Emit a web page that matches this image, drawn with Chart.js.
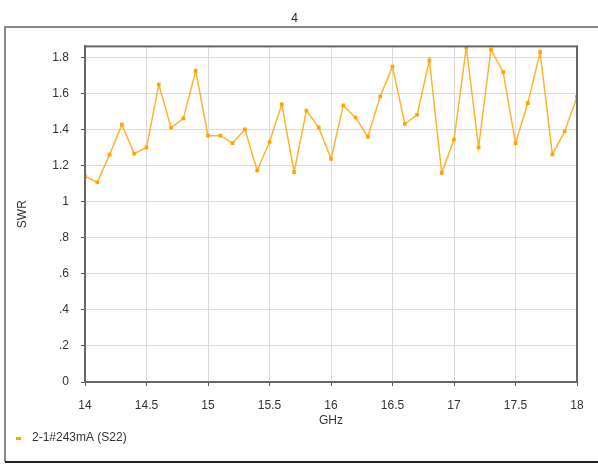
<!DOCTYPE html>
<html>
<head>
<meta charset="utf-8">
<script src="https://cdn.jsdelivr.net/npm/chart.js@4/dist/chart.umd.min.js"></script>
<style>
  html, body { margin: 0; padding: 0; background: #fff; }
  #wrap { width: 598px; height: 464px; }
</style>
</head>
<body>
<div id="wrap"><canvas id="myChart" width="598" height="464"></canvas></div>
<script>
// data
const chartTitle = '4';
const seriesName = '2-1#243mA (S22)';
const freqs = [14.0, 14.1, 14.2, 14.3, 14.4, 14.5, 14.6, 14.7, 14.8, 14.9,
               15.0, 15.1, 15.2, 15.3, 15.4, 15.5, 15.6, 15.7, 15.8, 15.9,
               16.0, 16.1, 16.2, 16.3, 16.4, 16.5, 16.6, 16.7, 16.8, 16.9,
               17.0, 17.1, 17.2, 17.3, 17.4, 17.5, 17.6, 17.7, 17.8, 17.9, 18.0];
const swr = [1.14, 1.107, 1.26, 1.426, 1.265, 1.30, 1.648, 1.409, 1.461, 1.724,
             1.365, 1.365, 1.324, 1.40, 1.172, 1.33, 1.539, 1.163, 1.504, 1.411,
             1.237, 1.533, 1.465, 1.359, 1.583, 1.748, 1.43, 1.481, 1.783, 1.159,
             1.344, 1.854, 1.30, 1.843, 1.717, 1.324, 1.546, 1.828, 1.261, 1.389, 1.58];
const xTicks = [14, 14.5, 15, 15.5, 16, 16.5, 17, 17.5, 18];
const yTicks = [0, 0.2, 0.4, 0.6, 0.8, 1, 1.2, 1.4, 1.6, 1.8];

const font = { family: 'Liberation Sans, Arial, sans-serif', size: 12, weight: 'normal' };

// small orange dash for the legend, with blank room after it
const legendMark = document.createElement('canvas');
legendMark.width = 10;
legendMark.height = 3;
legendMark.getContext('2d').fillStyle = '#ffa500';
legendMark.getContext('2d').fillRect(0, 0, 5, 3);

// outer frame and plot border
const framePlugin = {
  id: 'frame',
  beforeDraw (chart) {
    const c = chart.ctx;
    c.save();
    c.fillStyle = '#fff';
    c.fillRect(0, 0, chart.width, chart.height);
    c.strokeStyle = '#8a8a8a';
    c.lineWidth = 2;
    c.beginPath();
    c.moveTo(chart.width + 5, 27);
    c.lineTo(5, 27);
    c.lineTo(5, 462);
    c.stroke();
    c.strokeStyle = '#222';
    c.beginPath();
    c.moveTo(5, 462);
    c.lineTo(chart.width + 5, 462);
    c.stroke();
    c.restore();
  },
  afterDatasetsDraw (chart) {
    const a = chart.chartArea;
    const c = chart.ctx;
    c.save();
    c.strokeStyle = '#666';
    c.lineWidth = 2;
    c.strokeRect(a.left, a.top, a.right - a.left, a.bottom - a.top);
    c.restore();
  }
};

const ctx = document.getElementById('myChart');

const myChart = new Chart(ctx, {
  type: 'line',
  data: {
    datasets: [{
      label: seriesName,
      data: freqs.map((f, i) => ({ x: f, y: swr[i] })),
      borderColor: '#ffb32e',
      backgroundColor: '#ffa500',
      borderWidth: 1.5,
      pointStyle: 'rect',
      pointRadius: 2.6,
      pointBackgroundColor: '#ffa500',
      pointBorderColor: '#ffa500',
      pointBorderWidth: 0,
      tension: 0
    }]
  },
  options: {
    responsive: false,
    animation: false,
    layout: { padding: { left: 12, right: 21, top: 0, bottom: 10 } },
    plugins: {
      title: {
        display: true,
        text: chartTitle,
        color: '#222',
        font: font,
        padding: { top: 11, bottom: 21 }
      },
      legend: {
        position: 'bottom',
        align: 'start',
        labels: {
          usePointStyle: true,
          pointStyle: legendMark,
          pointStyleWidth: 10,
          boxHeight: 3,
          color: '#333',
          font: font,
          padding: 4
        }
      },
      tooltip: { enabled: false }
    },
    scales: {
      x: {
        type: 'linear',
        min: 14,
        max: 18,
        afterBuildTicks: s => { s.ticks = xTicks.map(v => ({ value: v })); },
        afterFit: s => { s.height = 46; },
        ticks: {
          color: '#333',
          font: font,
          padding: 12,
          maxRotation: 0,
          callback: v => String(v)
        },
        grid: { color: '#dadada', lineWidth: 1, tickColor: '#555', tickLength: 4 },
        border: { display: true, color: '#666', width: 2 },
        title: { display: true, text: 'GHz', color: '#333', font: font, padding: { top: 0, bottom: 0 } }
      },
      y: {
        min: 0,
        max: 1.86,
        afterBuildTicks: s => { s.ticks = yTicks.map(v => ({ value: v })); },
        afterFit: s => { s.width = 73; },
        ticks: {
          color: '#333',
          font: font,
          padding: 12,
          callback: v => v === 0 ? '0' : String(Number(v.toFixed(1))).replace(/^0\./, '.')
        },
        grid: { color: '#dadada', lineWidth: 1, tickColor: '#555', tickLength: 4 },
        border: { display: true, color: '#666', width: 2 },
        title: { display: true, text: 'SWR', color: '#333', font: font, padding: { top: 3 } }
      }
    }
  },
  plugins: [framePlugin]
});
</script>
</body>
</html>
